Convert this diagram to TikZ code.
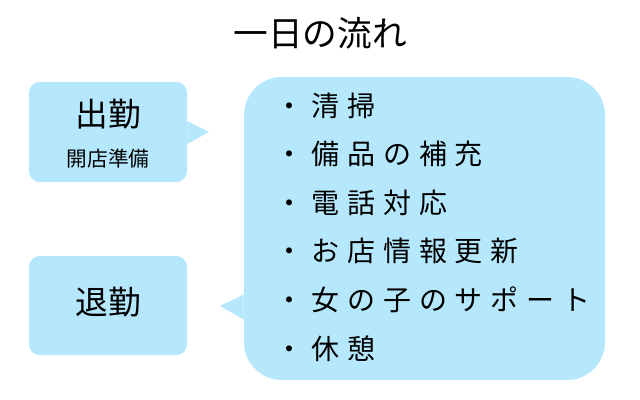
\documentclass[tikz,border=0pt]{standalone}
\usepackage{fontspec}
\setmainfont{Noto Sans CJK JP}
\newfontfamily\listfont[LetterSpace=28]{Noto Sans CJK JP}
\definecolor{bubble}{HTML}{B5E8FD}
\tikzset{
  panel/.style={fill=bubble, rounded corners=8pt, inner sep=0pt},
  bigpanel/.style={fill=bubble, rounded corners=28.5pt, inner sep=0pt},
  lbl/.style={inner sep=0pt, font=\fontsize{24.5pt}{26pt}\selectfont},
  sublbl/.style={inner sep=0pt, font=\fontsize{15.5pt}{17pt}\selectfont},
  todo/.style={inner sep=0pt, anchor=west, font=\listfont\fontsize{21pt}{23pt}\selectfont}
}
\begin{document}
\begin{tikzpicture}[x=0.75pt, y=-0.75pt]
\useasboundingbox (0,0) rectangle (640,400);
\node[inner sep=0pt, font=\fontsize{26pt}{28pt}\selectfont] (title) at (320,33){一日の流れ};
% left bubbles
\node[panel, minimum width=118.5pt, minimum height=75pt] (shukkin) at (108,132){};
\node[lbl] (shukkinlbl) at (108,114){出勤};
\node[sublbl] (junbi) at (108,159){開店準備};
\coordinate (tipA) at (209,132);
\fill[bubble] ([yshift=8.25pt]shukkin.east) -- (tipA) -- ([yshift=-9pt]shukkin.east) -- cycle;
\node[panel, minimum width=118.5pt, minimum height=74.25pt] (taikin) at (108,305.5){};
\node[lbl] (taikinlbl) at (108,302){退勤};
% task list
\node[bigpanel, minimum width=270.75pt, minimum height=227.25pt] (tasks) at (424.5,228.5){};
\coordinate (tipB) at (220,306);
\fill[bubble] ([yshift=-49.5pt]tasks.west) -- (tipB) -- ([yshift=-68.25pt]tasks.west) -- cycle;
\foreach \txt [count=\i] in {清掃, 備品の補充, 電話対応, お店情報更新, 女の子のサポート, 休憩}{
  \node[todo] (item\i) at (275.5,{105.5+48.6*(\i-1)}){・\txt};
}
\end{tikzpicture}
\end{document}
